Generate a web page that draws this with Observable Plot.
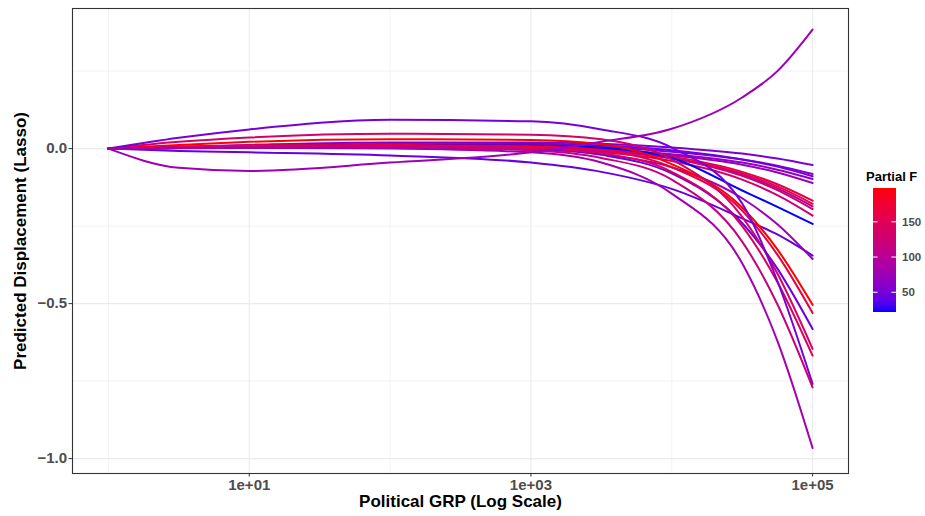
<!DOCTYPE html>
<html>
<head>
<meta charset="utf-8">
<script src="https://cdn.jsdelivr.net/npm/d3@7"></script>
<script src="https://cdn.jsdelivr.net/npm/@observablehq/plot@0.6"></script>
<style>
  html, body { margin: 0; padding: 0; background: #fff; }
  #chart { width: 925px; height: 516px; }
</style>
</head>
<body>
<div id="chart"></div>
<script>
// Political GRP sample points (x axis, log scale)
const grp = [1, 3.162, 10, 100, 1000, 3162, 10000, 31623, 56234, 100000];

// Partial F of each fitted curve
const partialF = [52, 62, 45, 68, 72, 150, 178, 85, 132, 125, 22, 42, 75, 198, 165, 45, 135, 142, 50, 118, 82, 76];

// Predicted displacement per curve at the GRP points above
const c01 = [0, 0.006, 0.012, 0.020, 0.020, 0.016, 0.004, -0.016, -0.032, -0.053];
const c02 = [0, 0.003, 0.006, 0.010, 0.010, 0.005, -0.010, -0.035, -0.055, -0.082];
const c03 = [0, 0.004, 0.008, 0.015, 0.016, 0.010, -0.005, -0.035, -0.058, -0.089];
const c04 = [0, 0.002, 0.004, 0.006, 0.004, -0.002, -0.018, -0.045, -0.068, -0.098];
const c05 = [0, 0.002, 0.004, 0.005, 0.002, -0.005, -0.022, -0.052, -0.077, -0.111];
const c06 = [0, 0.005, 0.010, 0.014, 0.012, 0.002, -0.025, -0.075, -0.115, -0.168];
const c07 = [0, 0.003, 0.005, 0.007, 0.003, -0.006, -0.030, -0.080, -0.122, -0.178];
const c08 = [0, 0.002, 0.003, 0.004, 0.000, -0.008, -0.032, -0.085, -0.128, -0.186];
const c09 = [0, 0.004, 0.007, 0.010, 0.008, -0.002, -0.030, -0.088, -0.134, -0.195];
const c10 = [0, 0.001, 0.002, 0.002, -0.003, -0.012, -0.040, -0.100, -0.150, -0.216];
const c11 = [0, 0.004, 0.008, 0.012, 0.010, 0.003, -0.030, -0.135, -0.188, -0.243];
const c12 = [0, -0.008, -0.012, -0.022, -0.045, -0.075, -0.130, -0.225, -0.277, -0.345];
const c13 = [0, 0.002, 0.004, 0.004, -0.002, -0.018, -0.060, -0.160, -0.244, -0.356];
const c14 = [0, 0.012, 0.022, 0.030, 0.028, 0.015, -0.050, -0.190, -0.325, -0.504];
const c15 = [0, 0.006, 0.010, 0.012, 0.008, -0.005, -0.060, -0.200, -0.342, -0.530];
const c16 = [0, 0.003, 0.005, 0.006, 0.000, -0.020, -0.080, -0.240, -0.387, -0.582];
const c17 = [0, 0.022, 0.036, 0.048, 0.045, 0.030, -0.035, -0.220, -0.403, -0.646];
const c18 = [0, 0.004, 0.007, 0.008, 0.002, -0.015, -0.075, -0.250, -0.430, -0.668];
const c19 = [0, 0.035, 0.062, 0.093, 0.088, 0.062, 0.003, -0.177, -0.427, -0.759];
const c20 = [0, 0.003, 0.005, 0.005, -0.005, -0.030, -0.100, -0.300, -0.502, -0.770];
const c21 = [0, 0.002, 0.003, 0.000, -0.012, -0.045, -0.145, -0.370, -0.620, -0.966];
const c22 = [0, -0.062, -0.072, -0.045, -0.012, 0.022, 0.064, 0.165, 0.250, 0.384];
const curves = [c01, c02, c03, c04, c05, c06, c07, c08, c09, c10, c11, c12, c13, c14, c15, c16, c17, c18, c19, c20, c21, c22];

// Axis breaks / labels
const xMajor = [10, 1000, 100000];
const xMinor = [1, 100, 10000];
const yMajor = [-1, -0.5, 0];
const yMinor = [-0.75, -0.25, 0.25];
const legendTicks = [50, 100, 150];

const rows = [];
curves.forEach((vals, i) => {
  vals.forEach((v, j) => rows.push({id: i, F: partialF[i], x: grp[j], y: v}));
});

const fExtent = d3.extent(partialF);
const font = "'Liberation Sans', Arial, Helvetica, sans-serif";

const chart = Plot.plot({
  width: 925,
  height: 516,
  marginLeft: 72,
  marginRight: 77,
  marginTop: 8,
  marginBottom: 43,
  style: {fontFamily: font, fontSize: "15px", background: "#fff", overflow: "visible"},
  x: {type: "log", domain: [Math.pow(10, -0.255), Math.pow(10, 5.255)]},
  y: {domain: [-1.048, 0.452]},
  color: {type: "linear", domain: fExtent, range: ["blue", "red"], interpolate: "lab"},
  marks: [
    Plot.ruleX(xMinor, {stroke: "#ebebeb", strokeWidth: 0.6}),
    Plot.ruleY(yMinor, {stroke: "#ebebeb", strokeWidth: 0.6}),
    Plot.ruleX(xMajor, {stroke: "#ebebeb", strokeWidth: 1.1}),
    Plot.ruleY(yMajor, {stroke: "#ebebeb", strokeWidth: 1.1}),
    Plot.line(rows, {x: "x", y: "y", z: "id", stroke: "F", strokeWidth: 2, curve: "monotone-x"}),
    Plot.frame({stroke: "#333333", strokeWidth: 1.1}),
    Plot.axisX(xMajor, {tickSize: 3.5, tickPadding: 2, stroke: "#333333", fill: "#4d4d4d", fontWeight: "bold",
      tickFormat: d => "1e+" + String(Math.round(Math.log10(d))).padStart(2, "0"), label: null}),
    Plot.axisY(yMajor, {tickSize: 3.5, tickPadding: 2, stroke: "#333333", fill: "#4d4d4d", fontWeight: "bold",
      tickFormat: d3.format(".1f"), label: null}),
    Plot.text(["Political GRP (Log Scale)"], {frameAnchor: "bottom", dy: 28, lineAnchor: "middle", textAnchor: "middle", fontWeight: "bold", fontSize: 17, fill: "#000"}),
    Plot.text(["Predicted Displacement (Lasso)"], {frameAnchor: "left", dx: -52, rotate: -90, textAnchor: "middle", lineAnchor: "middle", fontWeight: "bold", fontSize: 17, fill: "#000"})
  ]
});

document.getElementById("chart").appendChild(chart);

// Vertical colour bar legend
const svg = d3.select(chart);
const barX = 873, barW = 23, barTop = 188, barBottom = 312;
const colorFn = d3.scaleLinear().domain(fExtent).range(["blue", "red"]).interpolate(d3.interpolateLab);
const legY = d3.scaleLinear().domain(fExtent).range([barBottom, barTop]);
const defs = svg.append("defs");
const grad = defs.append("linearGradient").attr("id", "pfgrad").attr("x1", 0).attr("y1", 1).attr("x2", 0).attr("y2", 0);
d3.range(0, 1.0001, 0.05).forEach(t => {
  grad.append("stop").attr("offset", t).attr("stop-color", colorFn(fExtent[0] + t * (fExtent[1] - fExtent[0])));
});
const leg = svg.append("g").attr("font-family", font).attr("text-anchor", "start");
leg.append("text").attr("x", 866).attr("y", 181).attr("font-weight", "bold").attr("font-size", 13).attr("fill", "#000").text("Partial F");
leg.append("rect").attr("x", barX).attr("y", barTop).attr("width", barW).attr("height", barBottom - barTop).attr("fill", "url(#pfgrad)");
legendTicks.forEach(v => {
  const yy = legY(v);
  leg.append("line").attr("x1", barX).attr("x2", barX + 4.6).attr("y1", yy).attr("y2", yy).attr("stroke", "#fff").attr("stroke-width", 1);
  leg.append("line").attr("x1", barX + barW - 4.6).attr("x2", barX + barW).attr("y1", yy).attr("y2", yy).attr("stroke", "#fff").attr("stroke-width", 1);
  leg.append("text").attr("x", barX + barW + 6).attr("y", yy).attr("dy", "0.35em").attr("font-weight", "bold").attr("font-size", 11.5).attr("fill", "#4d4d4d").text(v);
});
</script>
</body>
</html>
